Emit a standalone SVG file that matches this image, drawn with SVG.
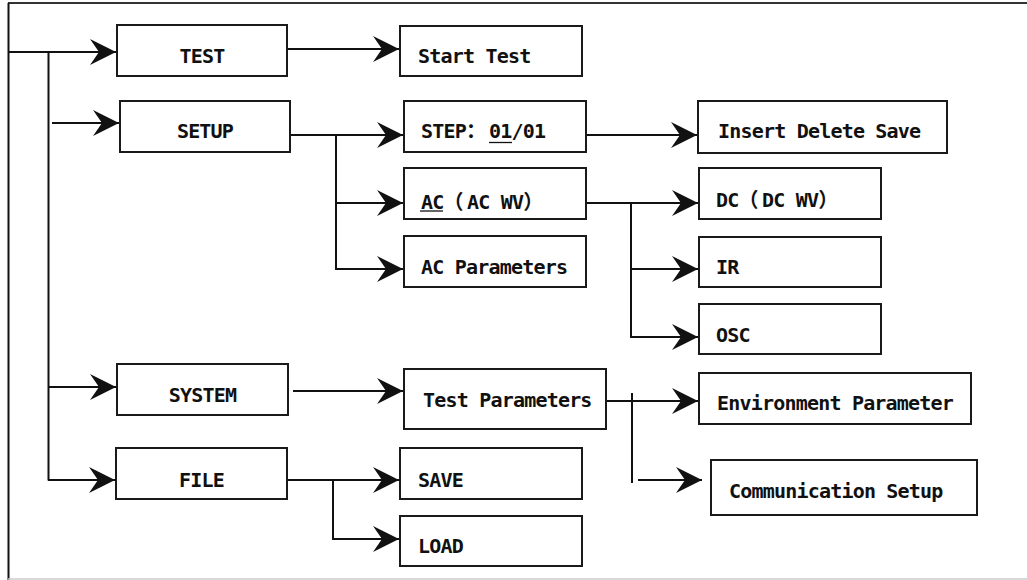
<svg xmlns="http://www.w3.org/2000/svg" width="1027" height="580" viewBox="0 0 1027 580">
<style>
.box{fill:#fff;stroke:#1a1a1a;stroke-width:2}
.ln{fill:none;stroke:#111;stroke-width:2}
.t{font-family:"DejaVu Sans Mono","Liberation Mono","Noto Sans CJK SC",monospace;font-weight:bold;font-size:20px;letter-spacing:-0.8px;fill:#111}
.c{text-anchor:middle}
.u{stroke:#111;stroke-width:1.3}
</style>
<defs>
<marker id="ah" markerUnits="userSpaceOnUse" markerWidth="28" markerHeight="28" viewBox="-27 -14 28 28" refX="0" refY="0" orient="auto">
<path d="M0,0 L-26,-13 L-17,0 L-26,13 Z" fill="#111"/>
</marker>
</defs>
<rect x="0" y="0" width="1027" height="580" fill="#fff"/>
<g id="frame">
<line x1="8" y1="3" x2="1027" y2="3" stroke="#333" stroke-width="2"/>
<line x1="8.5" y1="3" x2="8.5" y2="580" stroke="#111" stroke-width="2"/>
<line x1="8" y1="579" x2="1027" y2="579" stroke="#ccc" stroke-width="1.5"/>
</g>
<g id="connectors">
<path class="ln" d="M8,52 H116" marker-end="url(#ah)"/>
<path class="ln" d="M48.5,52 V480.5"/>
<path class="ln" d="M52,123 H119" marker-end="url(#ah)"/>
<path class="ln" d="M48,387 H116" marker-end="url(#ah)"/>
<path class="ln" d="M48,480 H115" marker-end="url(#ah)"/>
<path class="ln" d="M287,49 H399" marker-end="url(#ah)"/>
<path class="ln" d="M290,135 H403" marker-end="url(#ah)"/>
<path class="ln" d="M336,135 V269 H403" marker-end="url(#ah)"/>
<path class="ln" d="M336,203 H403" marker-end="url(#ah)"/>
<path class="ln" d="M586,135 H697" marker-end="url(#ah)"/>
<path class="ln" d="M586,203 H698" marker-end="url(#ah)"/>
<path class="ln" d="M631,203 V337 H698" marker-end="url(#ah)"/>
<path class="ln" d="M631,269 H698" marker-end="url(#ah)"/>
<path class="ln" d="M293,391 H403" marker-end="url(#ah)"/>
<path class="ln" d="M592,401 H698" marker-end="url(#ah)"/>
<path class="ln" d="M632,393 V483"/>
<path class="ln" d="M638,480 H702" marker-end="url(#ah)"/>
<path class="ln" d="M287,480 H399" marker-end="url(#ah)"/>
<path class="ln" d="M333,480 V539 H399" marker-end="url(#ah)"/>
</g>
<g id="n-test"><rect class="box" x="117" y="25" width="170" height="51"/><text class="t c" x="202" y="63">TEST</text></g>
<g id="n-setup"><rect class="box" x="120" y="101" width="170" height="51"/><text class="t c" x="205" y="138">SETUP</text></g>
<g id="n-system"><rect class="box" x="117" y="364" width="171" height="51"/><text class="t c" x="202.5" y="402">SYSTEM</text></g>
<g id="n-file"><rect class="box" x="116" y="448" width="171" height="51"/><text class="t c" x="201.5" y="487">FILE</text></g>
<g id="n-start"><rect class="box" x="400" y="26" width="182" height="50"/><text class="t" x="418" y="63">Start Test</text></g>
<g id="n-step"><rect class="box" x="404" y="101" width="182" height="51"/><text class="t" x="421" y="138">STEP：<tspan x="489">01/01</tspan></text><line class="u" x1="489" y1="142.5" x2="512" y2="142.5"/></g>
<g id="n-ac"><rect class="box" x="404" y="168" width="182" height="51"/><text class="t" x="421" y="209">AC（<tspan x="467">AC WV）</tspan></text><line class="u" x1="420" y1="211" x2="443" y2="211"/></g>
<g id="n-acparam"><rect class="box" x="404" y="236" width="182" height="51"/><text class="t" x="421" y="274">AC Parameters</text></g>
<g id="n-insert"><rect class="box" x="698" y="101" width="249" height="52"/><text class="t" x="718" y="138">Insert Delete Save</text></g>
<g id="n-dc"><rect class="box" x="699" y="168" width="182" height="51"/><text class="t" x="716" y="207">DC（<tspan x="762">DC WV）</tspan></text></g>
<g id="n-ir"><rect class="box" x="699" y="237" width="182" height="50"/><text class="t" x="716" y="274">IR</text></g>
<g id="n-osc"><rect class="box" x="699" y="304" width="182" height="50"/><text class="t" x="716" y="342">OSC</text></g>
<g id="n-testparam"><rect class="box" x="404" y="369" width="202" height="60"/><text class="t" x="423" y="407">Test Parameters</text></g>
<g id="n-env"><rect class="box" x="699" y="373" width="272" height="51"/><text class="t" x="717" y="410">Environment Parameter</text></g>
<g id="n-comm"><rect class="box" x="711" y="460" width="266" height="55"/><text class="t" x="729" y="498">Communication Setup</text></g>
<g id="n-save"><rect class="box" x="400" y="448" width="182" height="51"/><text class="t" x="418" y="487">SAVE</text></g>
<g id="n-load"><rect class="box" x="400" y="516" width="182" height="50"/><text class="t" x="418" y="553">LOAD</text></g>
</svg>
